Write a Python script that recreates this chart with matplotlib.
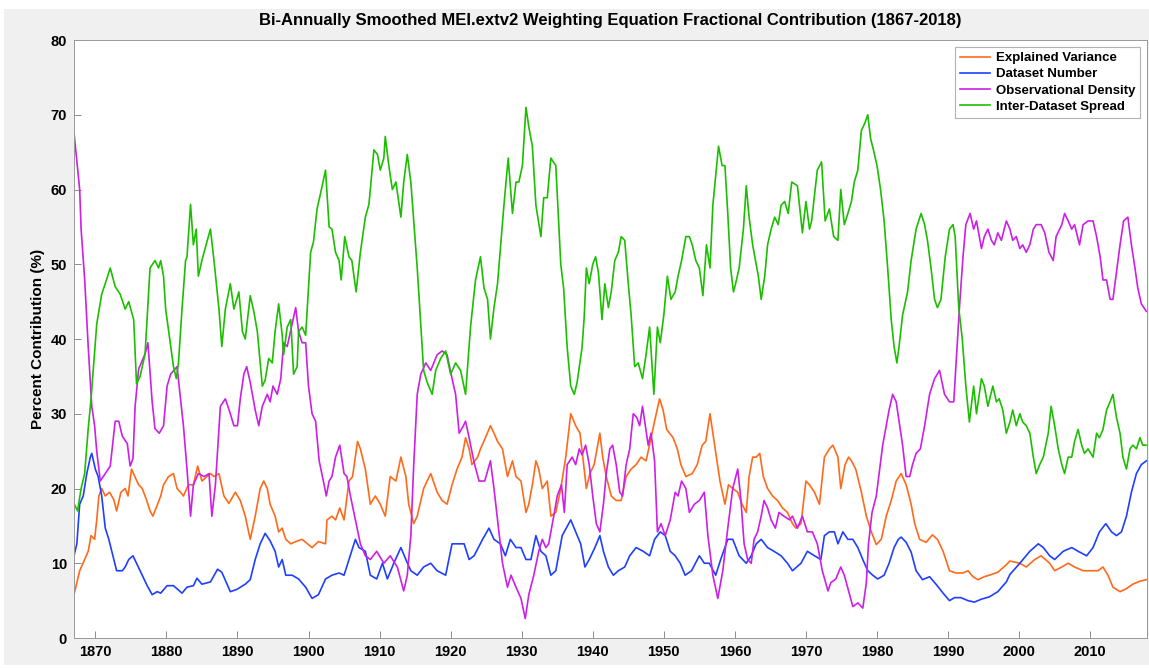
import matplotlib
matplotlib.use("Agg")
import matplotlib.pyplot as plt
from matplotlib.patches import Rectangle

# (year, percent) pairs
explained_variance = [
    (1867.0, 5.8), (1867.8, 9), (1868.5, 10.5), (1869.0, 11.6), (1869.4, 13.7), (1869.9, 13.2),
    (1870.2, 15.8), (1870.5, 19), (1870.9, 20), (1871.4, 19), (1872.0, 19.5), (1872.6, 18.5),
    (1873.0, 17), (1873.6, 19.5), (1874.2, 20), (1874.6, 19), (1875.1, 22.6), (1875.6, 21.5),
    (1876.1, 20.5), (1876.6, 20), (1877.2, 18.5), (1877.7, 17), (1878.1, 16.3), (1878.6, 17.5),
    (1879.2, 19), (1879.6, 20.5), (1880.3, 21.6), (1881.0, 22), (1881.5, 20), (1882.0, 19.5),
    (1882.4, 19), (1883.1, 20.5), (1883.8, 20.5), (1884.4, 23), (1885.0, 21), (1885.7, 21.6),
    (1886.2, 22), (1886.7, 21.6), (1887.4, 22), (1888.1, 19), (1888.8, 18), (1889.7, 19.5),
    (1890.4, 18.4), (1891.1, 16.3), (1891.8, 13.2), (1892.5, 16.3), (1893.2, 20), (1893.7, 21),
    (1894.2, 20), (1894.6, 17.9), (1895.3, 16.3), (1895.8, 14.2), (1896.3, 14.7), (1896.8, 13.2),
    (1897.5, 12.6), (1898.2, 12.9), (1899.1, 13.2), (1900.5, 12.1), (1901.4, 12.9), (1902.4, 12.6),
    (1902.6, 15.8), (1903.3, 16.3), (1903.8, 15.8), (1904.4, 17.4), (1905.0, 15.8), (1905.7, 21),
    (1906.2, 21.6), (1906.9, 26.3), (1907.3, 25.3), (1908.0, 22.6), (1908.7, 17.9), (1909.4, 19),
    (1910.1, 17.9), (1910.8, 16.3), (1911.5, 21.6), (1912.3, 21), (1913.0, 24.2), (1913.7, 21.6),
    (1914.1, 17.9), (1914.8, 15.3), (1915.3, 16.3), (1916.2, 20), (1917.2, 22), (1918.1, 19.5),
    (1918.8, 18.4), (1919.5, 17.9), (1920.2, 20.5), (1920.9, 22.6), (1921.6, 24.2), (1922.1, 26.8),
    (1922.6, 25.3), (1923.0, 23.2), (1923.8, 24.2), (1924.2, 25.3), (1924.9, 26.8), (1925.6, 28.4),
    (1926.1, 27.4), (1926.6, 26.3), (1927.3, 25.3), (1928.0, 21.6), (1928.7, 23.7), (1929.2, 21.6),
    (1929.9, 21), (1930.6, 16.8), (1931.0, 17.9), (1931.5, 20.5), (1932.0, 23.7), (1932.4, 22.6),
    (1932.9, 20), (1933.6, 21), (1934.1, 16.3), (1934.8, 16.8), (1935.5, 20), (1936.2, 24.2),
    (1936.9, 30), (1937.6, 28.4), (1938.2, 27.4), (1938.6, 24.2), (1939.1, 20), (1939.6, 22),
    (1940.2, 23.2), (1941.0, 27.4), (1941.4, 24.2), (1941.9, 21.6), (1942.6, 19), (1943.3, 18.4),
    (1944.0, 18.4), (1944.7, 21.6), (1945.4, 22.6), (1946.1, 23.2), (1946.8, 24.2), (1947.5, 23.7),
    (1948.1, 26.3), (1948.7, 29), (1949.4, 32), (1949.9, 30.5), (1950.4, 27.9), (1950.8, 27.4),
    (1951.3, 26.8), (1951.9, 25.3), (1952.4, 23.2), (1953.1, 21.6), (1954.0, 22), (1954.7, 23.2),
    (1955.4, 25.8), (1955.9, 26.3), (1956.5, 30), (1956.9, 27.4), (1957.4, 24.2), (1957.9, 21),
    (1958.6, 17.9), (1959.1, 20.5), (1959.7, 20), (1960.4, 19.5), (1961.0, 17.9), (1961.6, 16.8),
    (1962.0, 21.6), (1962.5, 24.2), (1963.0, 24.2), (1963.5, 24.7), (1964.0, 21.6), (1964.6, 20),
    (1965.3, 19), (1966.0, 18.4), (1966.7, 17.4), (1967.4, 16.8), (1968.1, 15.3), (1968.6, 14.7),
    (1969.3, 15.3), (1970.0, 21), (1970.5, 20.5), (1971.2, 19.5), (1971.9, 17.9), (1972.6, 24.2),
    (1973.3, 25.3), (1973.8, 25.8), (1974.5, 24.2), (1974.9, 20), (1975.5, 23.2), (1976.0, 24.2),
    (1976.4, 23.7), (1977.0, 22.6), (1977.8, 19.5), (1978.5, 16.3), (1979.2, 14.2), (1979.9, 12.5),
    (1980.6, 13.2), (1981.3, 16.3), (1982.0, 18.4), (1982.7, 21), (1983.4, 22), (1984.1, 20.5),
    (1984.8, 17.9), (1985.3, 15.3), (1986.0, 13.2), (1986.9, 12.8), (1987.8, 13.8), (1988.5, 13.2),
    (1989.3, 11.6), (1990.2, 9), (1991.1, 8.7), (1992.1, 8.7), (1992.8, 9), (1993.5, 8.2),
    (1994.2, 7.8), (1995.1, 8.2), (1996.1, 8.5), (1997.0, 8.8), (1998.2, 9.8), (1998.7, 10.3),
    (2000.1, 10), (2001.0, 9.5), (2002.2, 10.5), (2003.1, 11), (2004.3, 10), (2005.0, 9),
    (2006.0, 9.5), (2006.9, 10), (2007.8, 9.5), (2009.0, 9), (2010.2, 9), (2011.1, 9),
    (2011.8, 9.5), (2012.5, 8.4), (2013.2, 6.8), (2014.2, 6.2), (2015.1, 6.6), (2016.0, 7.2),
    (2017.0, 7.6), (2017.9, 7.8),
]

dataset_number = [
    (1867.0, 11), (1867.4, 12.6), (1867.8, 17.9), (1868.3, 19), (1868.8, 22), (1869.3, 24.2),
    (1869.5, 24.7), (1870.0, 22.6), (1870.4, 21.6), (1870.9, 19), (1871.4, 14.7), (1871.9, 13.2),
    (1872.6, 10.5), (1873.0, 9), (1873.8, 9), (1874.2, 9.5), (1874.7, 10.5), (1875.3, 11),
    (1875.8, 10), (1876.6, 8.4), (1877.3, 7), (1878.0, 5.8), (1878.7, 6.2), (1879.2, 6),
    (1880.1, 7), (1881.0, 7), (1882.2, 6), (1882.9, 6.8), (1883.8, 7), (1884.3, 8),
    (1885.0, 7.2), (1886.2, 7.5), (1887.2, 9.2), (1887.8, 8.8), (1889.0, 6.2), (1889.9, 6.5),
    (1891.1, 7.2), (1891.8, 7.8), (1892.5, 10.5), (1893.2, 12.6), (1893.9, 14), (1894.6, 13),
    (1895.3, 11.6), (1895.8, 9.5), (1896.3, 10.5), (1896.8, 8.4), (1897.7, 8.4), (1898.6, 7.9),
    (1899.6, 6.8), (1900.5, 5.3), (1901.4, 5.8), (1902.4, 7.9), (1903.3, 8.4), (1904.3, 8.7),
    (1905.0, 8.4), (1905.7, 10.5), (1906.6, 13.2), (1907.1, 12.1), (1908.0, 11.6), (1908.7, 8.4),
    (1909.6, 7.9), (1910.4, 10), (1911.1, 7.9), (1912.0, 10), (1913.0, 12.1), (1913.7, 10.5),
    (1914.4, 9), (1915.3, 8.4), (1916.2, 9.5), (1917.2, 10), (1918.1, 9), (1919.3, 8.4),
    (1920.2, 12.6), (1920.9, 12.6), (1921.9, 12.6), (1922.6, 10.5), (1923.3, 11), (1924.5, 13.2),
    (1925.4, 14.7), (1926.1, 13.2), (1927.0, 12.6), (1927.7, 11), (1928.4, 13.2), (1929.2, 12.1),
    (1929.9, 12.1), (1930.6, 10.5), (1931.3, 10.5), (1932.0, 13.7), (1932.7, 11.6), (1933.4, 11),
    (1934.1, 8.4), (1934.8, 9), (1935.7, 13.7), (1936.9, 15.8), (1937.6, 14.2), (1938.3, 12.6),
    (1938.9, 9.5), (1939.5, 10.5), (1940.3, 12.1), (1941.0, 13.7), (1941.5, 11.6), (1942.2, 9.5),
    (1942.9, 8.4), (1943.6, 9), (1944.5, 9.5), (1945.2, 11), (1946.1, 12.1), (1947.1, 11.6),
    (1948.0, 11), (1948.7, 13.2), (1949.5, 14.2), (1950.2, 13.7), (1950.9, 11.6), (1951.6, 11),
    (1952.3, 10), (1953.0, 8.4), (1953.9, 9), (1955.0, 11), (1955.7, 10), (1956.4, 10),
    (1957.3, 8.4), (1958.0, 10.5), (1959.0, 13.2), (1959.7, 13.2), (1960.6, 11), (1961.6, 10),
    (1962.3, 11), (1963.0, 12.6), (1963.7, 13.2), (1964.6, 12.1), (1965.5, 11.6), (1966.5, 11),
    (1967.4, 10), (1968.1, 9), (1969.3, 10), (1970.2, 11.6), (1971.2, 11), (1972.1, 10.5),
    (1972.6, 13.7), (1973.3, 14.2), (1974.0, 14.2), (1974.5, 12.6), (1975.2, 14.2), (1975.9, 13.2),
    (1976.6, 13.2), (1977.3, 12.1), (1978.0, 10.5), (1978.7, 9), (1979.4, 8.4), (1980.1, 7.9),
    (1981.0, 8.4), (1981.7, 10), (1982.4, 12.1), (1983.0, 13.2), (1983.4, 13.5), (1984.1, 12.8),
    (1984.8, 11.5), (1985.5, 9), (1986.4, 7.8), (1987.4, 8.2), (1988.3, 7.2), (1989.3, 6),
    (1990.2, 5), (1990.9, 5.4), (1991.8, 5.4), (1992.8, 5), (1993.7, 4.8), (1994.7, 5.2),
    (1995.8, 5.5), (1997.0, 6.2), (1998.2, 7.5), (1998.7, 8.5), (2000.1, 10), (2001.5, 11.6),
    (2002.7, 12.6), (2003.4, 12.1), (2004.3, 11), (2005.0, 10.5), (2006.2, 11.6), (2007.4, 12.1),
    (2008.3, 11.6), (2009.5, 11), (2010.4, 12.1), (2011.3, 14.2), (2012.2, 15.3), (2013.0, 14.2),
    (2013.7, 13.7), (2014.4, 14.2), (2015.1, 16.3), (2015.8, 19.5), (2016.5, 22), (2017.2, 23.2),
    (2017.9, 23.7),
]

observational_density = [
    (1867.0, 67.6), (1867.8, 60), (1868.0, 54.7), (1868.5, 48), (1869.0, 39), (1869.5, 31),
    (1869.9, 28.4), (1870.2, 25), (1870.7, 21), (1871.4, 22), (1872.1, 23), (1872.8, 29),
    (1873.3, 29), (1873.8, 27), (1874.5, 26), (1874.9, 23), (1875.3, 24), (1875.6, 31),
    (1876.1, 36), (1877.0, 38), (1877.4, 39.5), (1878.0, 31.6), (1878.4, 28), (1879.0, 27.4),
    (1879.6, 28.4), (1880.1, 33.7), (1880.6, 35.3), (1881.5, 36.3), (1882.4, 28.4), (1882.9, 22.6),
    (1883.4, 16.3), (1883.8, 20.5), (1884.5, 22), (1885.3, 21.6), (1886.0, 22), (1886.4, 16.3),
    (1886.9, 20.5), (1887.6, 31), (1888.3, 32), (1889.0, 30), (1889.5, 28.4), (1890.0, 28.4),
    (1890.4, 32), (1890.9, 35.3), (1891.3, 36.3), (1891.8, 34.2), (1892.5, 30.5), (1893.0, 28.4),
    (1893.5, 31), (1894.2, 32.6), (1894.6, 31.6), (1895.0, 33.7), (1895.6, 32.6), (1896.1, 34.7),
    (1896.5, 39.5), (1897.0, 39), (1897.7, 42), (1898.2, 44.2), (1898.6, 41), (1899.1, 39.5),
    (1899.6, 39.5), (1900.0, 33.7), (1900.5, 30), (1901.0, 29), (1901.5, 23.7), (1902.2, 20.5),
    (1902.5, 19), (1902.9, 21), (1903.3, 21.6), (1903.8, 24.2), (1904.4, 25.8), (1905.0, 22),
    (1905.4, 21.6), (1905.9, 19), (1906.6, 15.8), (1907.3, 12.6), (1908.0, 11), (1908.7, 10.5),
    (1909.6, 11.6), (1910.6, 10), (1911.5, 11), (1912.5, 9.5), (1913.4, 6.3), (1913.9, 8.4),
    (1914.4, 13.7), (1914.8, 23), (1915.3, 32.6), (1915.8, 35.3), (1916.5, 36.8), (1917.2, 35.8),
    (1918.1, 37.9), (1918.8, 38.4), (1919.5, 37.9), (1920.2, 34.7), (1920.7, 32.6), (1921.2, 27.4),
    (1921.8, 28.4), (1922.1, 29), (1922.6, 26.8), (1923.3, 23.5), (1924.0, 21), (1924.8, 21),
    (1925.6, 23.7), (1926.1, 20), (1926.6, 15.8), (1927.3, 10), (1928.0, 6.8), (1928.5, 8.4),
    (1929.2, 6.8), (1929.9, 5.3), (1930.5, 2.6), (1931.0, 5.8), (1931.7, 8.4), (1932.4, 11.6),
    (1932.9, 13.2), (1933.4, 12.1), (1933.8, 12.6), (1934.6, 16.8), (1935.0, 19), (1935.6, 20.5),
    (1936.0, 16.8), (1936.4, 23.2), (1937.1, 24.2), (1937.6, 23.2), (1938.1, 25.3), (1938.5, 24.5),
    (1939.0, 25.8), (1939.5, 23.2), (1940.0, 19), (1940.5, 15.3), (1941.0, 14.2), (1941.5, 17.9),
    (1941.9, 22), (1942.4, 25.3), (1942.8, 25.8), (1943.3, 23.2), (1943.8, 19.5), (1944.2, 19),
    (1944.7, 23.2), (1945.2, 25.3), (1945.7, 30), (1946.2, 29.5), (1946.6, 28.4), (1947.0, 31),
    (1947.4, 28.4), (1947.8, 25.8), (1948.2, 27.4), (1948.7, 23.7), (1949.1, 14.2), (1949.6, 15.3),
    (1950.2, 13.7), (1950.9, 15.8), (1951.6, 19.5), (1952.0, 19), (1952.5, 21), (1953.1, 20),
    (1953.6, 16.8), (1954.3, 17.9), (1955.0, 18.4), (1955.7, 19.5), (1956.2, 13.7), (1956.9, 8.4),
    (1957.6, 5.3), (1958.3, 9), (1959.0, 14.7), (1959.7, 20), (1960.4, 22.6), (1960.8, 19),
    (1961.3, 12.6), (1961.8, 10.5), (1962.3, 10), (1962.7, 13.2), (1963.2, 14.2), (1963.7, 16.3),
    (1964.1, 18.4), (1964.6, 17.4), (1965.1, 15.8), (1965.7, 14.7), (1966.2, 16.8), (1966.9, 16.3),
    (1967.7, 15.8), (1968.1, 16.3), (1968.8, 14.7), (1969.5, 16.3), (1970.2, 14.2), (1970.9, 14.2),
    (1971.6, 12.6), (1972.3, 9), (1973.1, 6.3), (1973.5, 7.4), (1974.2, 7.9), (1974.9, 9.5),
    (1975.4, 8.4), (1976.0, 6.3), (1976.6, 4.2), (1977.3, 4.7), (1978.0, 4), (1978.5, 7.4),
    (1978.8, 12.6), (1979.3, 16.8), (1979.9, 19), (1980.3, 22), (1980.8, 25.8), (1981.3, 28.4),
    (1981.7, 30.5), (1982.2, 32.6), (1982.7, 31.6), (1983.1, 29), (1983.6, 25.8), (1984.1, 21.6),
    (1984.6, 21.6), (1985.0, 23.2), (1985.5, 24.7), (1986.1, 25.3), (1986.7, 28.4), (1987.4, 32.6),
    (1988.1, 34.7), (1988.8, 35.8), (1989.5, 32.6), (1990.2, 31.6), (1990.8, 31.6), (1991.1, 36.3),
    (1991.6, 44.2), (1992.1, 51), (1992.5, 55.3), (1993.1, 56.8), (1993.6, 54.7), (1994.0, 55.8),
    (1994.7, 52.1), (1995.1, 53.7), (1995.6, 54.7), (1996.1, 53.2), (1996.5, 52.6), (1997.0, 54.2),
    (1997.5, 53.2), (1998.2, 55.8), (1998.7, 54.7), (1999.1, 53.2), (1999.6, 53.7), (2000.1, 52.1),
    (2000.5, 52.6), (2001.0, 51.6), (2001.5, 52.6), (2002.0, 54.7), (2002.4, 55.3), (2003.1, 55.3),
    (2003.6, 54.2), (2004.2, 51.6), (2004.8, 50.5), (2005.2, 53.7), (2006.0, 55.3), (2006.4, 56.8),
    (2006.9, 55.8), (2007.4, 54.7), (2007.8, 55.3), (2008.5, 52.6), (2009.0, 55.3), (2009.7, 55.8),
    (2010.4, 55.8), (2010.9, 53.7), (2011.4, 51), (2011.8, 47.9), (2012.3, 47.9), (2012.8, 45.3),
    (2013.2, 45.3), (2013.7, 48.9), (2014.2, 52.6), (2014.7, 55.8), (2015.3, 56.3), (2015.8, 52.6),
    (2016.3, 49.5), (2016.7, 46.8), (2017.2, 44.7), (2017.9, 43.7),
]

inter_dataset_spread = [
    (1867.0, 18), (1867.5, 17), (1868.0, 20), (1868.5, 22), (1869.0, 28), (1869.4, 32),
    (1869.8, 37), (1870.2, 42), (1870.9, 46), (1871.6, 48), (1872.1, 49.5), (1872.8, 47),
    (1873.5, 46), (1874.2, 44), (1874.7, 45), (1875.4, 42.6), (1875.8, 34), (1876.3, 35),
    (1877.0, 38), (1877.7, 49.5), (1878.4, 50.5), (1878.9, 49.5), (1879.2, 50.5), (1879.6, 48.4),
    (1879.9, 44), (1880.1, 42.6), (1880.6, 39), (1881.0, 36.3), (1881.4, 34.7), (1881.7, 36.8),
    (1882.2, 44), (1882.7, 50.5), (1882.9, 51), (1883.4, 58), (1883.8, 52.6), (1884.2, 54.7),
    (1884.5, 48.4), (1885.0, 50.5), (1885.7, 53), (1886.2, 54.7), (1886.7, 50.5), (1887.4, 44),
    (1887.8, 39), (1888.3, 44), (1889.0, 47.4), (1889.5, 44), (1890.2, 46.3), (1890.7, 41),
    (1891.1, 40), (1891.8, 45.8), (1892.3, 43.7), (1892.8, 41), (1893.5, 33.7), (1893.9, 34.5),
    (1894.4, 37.4), (1894.9, 36.8), (1895.3, 41), (1895.8, 44.7), (1896.3, 40.5), (1896.5, 37.9),
    (1897.0, 41.6), (1897.5, 42.6), (1897.9, 35.3), (1898.4, 36.3), (1898.6, 41), (1899.1, 41.6),
    (1899.6, 40.5), (1900.0, 46.8), (1900.3, 51.6), (1900.7, 53), (1901.2, 57.4), (1901.7, 59.5),
    (1902.4, 62.6), (1902.9, 55), (1903.3, 54.7), (1903.8, 51.6), (1904.3, 50.5), (1904.6, 47.9),
    (1905.1, 53.7), (1905.7, 51), (1906.1, 50.5), (1906.7, 46.3), (1907.3, 51.6), (1908.0, 56.3),
    (1908.5, 58), (1908.7, 60), (1909.2, 65.3), (1909.7, 64.7), (1910.1, 62.6), (1910.6, 64.2),
    (1910.8, 67.1), (1911.3, 63.2), (1911.8, 60), (1912.3, 61), (1913.0, 56.3), (1913.4, 61),
    (1913.9, 64.7), (1914.4, 61), (1914.8, 55.8), (1915.3, 49.5), (1915.8, 42), (1916.2, 35.8),
    (1916.7, 34.2), (1917.4, 32.6), (1917.9, 35.8), (1918.6, 37.4), (1919.3, 38.4), (1920.0, 35.3),
    (1920.7, 36.8), (1921.4, 35.8), (1922.1, 32.6), (1922.8, 41.6), (1923.5, 47.9), (1924.2, 51),
    (1924.7, 46.8), (1925.2, 45.3), (1925.6, 40), (1926.1, 44.2), (1926.6, 47.4), (1927.0, 52),
    (1927.5, 57.9), (1928.1, 64.2), (1928.7, 56.8), (1929.2, 61), (1929.6, 61), (1930.1, 63.2),
    (1930.6, 71), (1931.0, 68.4), (1931.5, 65.8), (1932.0, 57.9), (1932.7, 53.7), (1933.1, 58.9),
    (1933.6, 58.9), (1934.1, 64.2), (1934.8, 63.2), (1935.5, 50), (1935.9, 46.8), (1936.4, 38.9),
    (1936.9, 33.7), (1937.4, 32.6), (1937.8, 34.2), (1938.5, 38.9), (1938.8, 43), (1939.1, 49.5),
    (1939.5, 47.4), (1940.0, 50), (1940.4, 51), (1940.8, 48.9), (1941.3, 42.6), (1941.7, 47.4),
    (1942.2, 44.2), (1942.6, 46.3), (1943.1, 50.5), (1943.6, 51.6), (1944.0, 53.7), (1944.5, 53.2),
    (1945.0, 47.4), (1945.4, 43.2), (1945.9, 36.3), (1946.4, 36.8), (1947.0, 34.7), (1947.5, 37.9),
    (1948.0, 41.6), (1948.6, 32.6), (1949.1, 41.6), (1949.5, 39.5), (1950.0, 43.2), (1950.5, 48.4),
    (1951.0, 45.3), (1951.6, 46.3), (1952.0, 48.4), (1952.5, 50.5), (1953.1, 53.7), (1953.6, 53.7),
    (1954.0, 52.6), (1954.5, 50.5), (1955.0, 49.5), (1955.5, 45.8), (1956.0, 52.6), (1956.5, 49.5),
    (1956.9, 57.9), (1957.7, 65.8), (1958.2, 63.2), (1958.6, 63.2), (1959.0, 56.8), (1959.4, 49.5),
    (1959.8, 46.3), (1960.1, 47.4), (1960.6, 49.5), (1961.2, 54.7), (1961.6, 60.5), (1962.0, 56.3),
    (1962.5, 52.6), (1963.0, 50), (1963.3, 48.4), (1963.7, 45.3), (1964.2, 48.4), (1964.6, 52.6),
    (1965.1, 54.7), (1965.6, 56.3), (1966.1, 55.3), (1966.5, 57.9), (1967.0, 58.4), (1967.5, 56.8),
    (1968.0, 61), (1968.8, 60.5), (1969.5, 54.2), (1970.0, 58.4), (1970.5, 54.7), (1970.8, 55.8),
    (1971.6, 62.6), (1972.2, 63.7), (1972.7, 55.8), (1973.3, 57.4), (1973.9, 53.7), (1974.5, 53.2),
    (1974.9, 60), (1975.4, 55.3), (1975.9, 56.8), (1976.4, 58.4), (1976.8, 61), (1977.3, 62.6),
    (1977.8, 67.9), (1978.3, 68.9), (1978.7, 70), (1979.1, 66.8), (1979.5, 65.3), (1980.0, 63.2),
    (1980.5, 60), (1981.0, 55.8), (1981.5, 49.5), (1982.0, 42.6), (1982.4, 39), (1982.8, 36.8),
    (1983.1, 39), (1983.6, 43.2), (1984.3, 46.3), (1984.8, 50.5), (1985.5, 54.7), (1986.2, 56.8),
    (1986.7, 55.3), (1987.1, 53.2), (1987.6, 49.5), (1988.1, 45.3), (1988.5, 44.2), (1989.0, 45.3),
    (1989.6, 51), (1990.2, 54.7), (1990.7, 55.3), (1991.0, 53.7), (1991.5, 44.2), (1992.0, 40),
    (1992.5, 33.7), (1993.0, 28.9), (1993.6, 33.7), (1994.0, 30), (1994.7, 34.7), (1995.1, 33.7),
    (1995.6, 31), (1996.3, 33.7), (1996.8, 31.6), (1997.2, 32), (1997.7, 30.5), (1998.2, 27.4),
    (1998.7, 28.9), (1999.1, 30.5), (1999.6, 28.4), (2000.1, 30), (2000.5, 28.9), (2001.0, 28.4),
    (2001.5, 27.4), (2002.0, 24.2), (2002.4, 22), (2002.9, 23.2), (2003.4, 24.2), (2004.1, 27.4),
    (2004.5, 31), (2005.0, 28.4), (2005.5, 25.3), (2006.0, 23.2), (2006.4, 22), (2006.9, 24.2),
    (2007.4, 24.2), (2007.8, 26.3), (2008.3, 27.9), (2008.8, 25.8), (2009.2, 24.7), (2009.7, 25.3),
    (2010.4, 24.2), (2010.9, 27.4), (2011.3, 26.8), (2011.8, 27.9), (2012.3, 30.5), (2012.8, 31.6),
    (2013.2, 32.6), (2013.7, 29.5), (2014.2, 27.4), (2014.6, 24.2), (2015.1, 22.6), (2015.6, 25.3),
    (2016.0, 25.8), (2016.5, 25.3), (2017.0, 26.8), (2017.4, 25.8), (2017.9, 25.8),
]

series_labels = ["Explained Variance", "Dataset Number",
                 "Observational Density", "Inter-Dataset Spread"]
series_colors = ["#ff6a1a", "#1f3fff", "#cc1fe8", "#1cbf00"]
x_ticks = list(range(1870, 2011, 10))
y_ticks = list(range(0, 81, 10))

plt.rcParams["font.family"] = ["Liberation Sans", "DejaVu Sans"]
plt.rcParams["font.weight"] = "bold"

fig = plt.figure(figsize=(11.49, 6.68), dpi=100, facecolor="white")
# grey figure panel behind the axes (screenshot look)
fig.patches.append(Rectangle((0.0035, 0.004), 0.9965, 0.9825, transform=fig.transFigure,
                             facecolor="#f0f0f0", edgecolor="none", zorder=-10))

ax = fig.add_axes([0.0644, 0.0449, 0.9339, 0.8952])
ax.set_facecolor("white")

all_series = [explained_variance, dataset_number, observational_density, inter_dataset_spread]
for data, label, color in zip(all_series, series_labels, series_colors):
    xs, ys = zip(*data)
    ax.plot(xs, ys, color=color, linewidth=1.2, label=label)

ax.set_xlim(1867, 2018)
ax.set_ylim(0, 80)
ax.set_xticks(x_ticks)
ax.set_yticks(y_ticks)
ax.tick_params(direction="in", length=5, width=0.7, color="#8c8c8c",
               labelsize=10.5, pad=5)
for lbl in ax.get_xticklabels() + ax.get_yticklabels():
    lbl.set_fontweight("bold")
for sp in ax.spines.values():
    sp.set_color("#999999")
    sp.set_linewidth(0.7)

ax.set_title("Bi-Annually Smoothed MEI.extv2 Weighting Equation Fractional Contribution (1867-2018)",
             fontsize=12, fontweight="bold", pad=11)
ax.set_ylabel("Percent Contribution (%)", fontsize=11, fontweight="bold", labelpad=4)

leg = ax.legend(loc="upper right", fontsize=9.5, frameon=True, fancybox=False,
                edgecolor="#a0a0a0", handlelength=2.3, handletextpad=0.4,
                labelspacing=0.3, borderpad=0.4, borderaxespad=0.5)
leg.get_frame().set_linewidth(0.8)
for t in leg.get_texts():
    t.set_fontweight("bold")

fig.savefig("out.png", dpi=100, facecolor=fig.get_facecolor())
